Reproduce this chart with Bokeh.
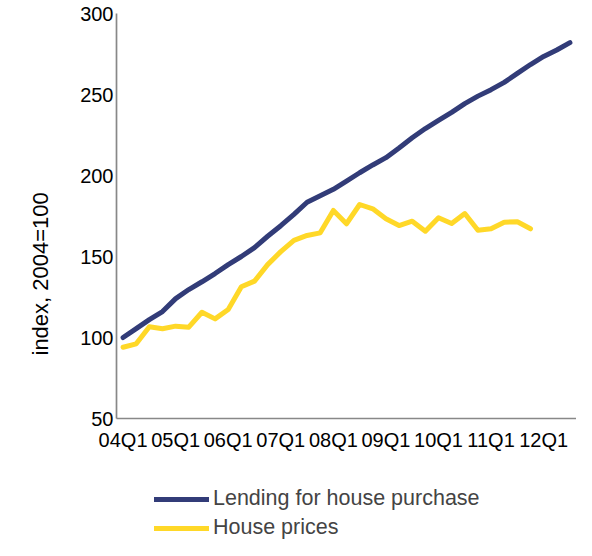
from bokeh.plotting import figure
from bokeh.models import Legend, LegendItem, FixedTicker, Range1d, Title
from bokeh.layouts import column
from bokeh.embed import file_html
from bokeh.resources import INLINE

quarters = ["04Q1", "04Q2", "04Q3", "04Q4", "05Q1", "05Q2", "05Q3", "05Q4",
            "06Q1", "06Q2", "06Q3", "06Q4", "07Q1", "07Q2", "07Q3", "07Q4",
            "08Q1", "08Q2", "08Q3", "08Q4", "09Q1", "09Q2", "09Q3", "09Q4",
            "10Q1", "10Q2", "10Q3", "10Q4", "11Q1", "11Q2", "11Q3", "11Q4",
            "12Q1", "12Q2", "12Q3"]

lending = [100, 105.5, 111, 116, 124, 129.6, 134.4, 139.5, 145, 150,
           155.5, 162.5, 169, 176, 183.5, 187.5, 191.5, 196.5, 201.7, 206.5,
           211, 217, 223.3, 229, 234, 239, 244.4, 249, 253, 257.5,
           263, 268.5, 273.5, 277.5, 282]

house_prices = [94, 96.1, 106.6, 105.4, 107, 106.4, 115.6, 111.5, 117.3, 131.3,
                134.8, 145, 153, 160, 163, 164.6, 178.4, 170.2, 182.1, 179.4,
                173.3, 169.1, 171.8, 165.6, 173.9, 170.4, 176.5, 166.2, 167.1, 171.2,
                171.4, 167.1]

series_names = ["Lending for house purchase", "House prices"]
series_colors = ["#323C78", "#FFD828"]
y_axis_title = "index, 2004=100"

y_ticks = [50, 100, 150, 200, 250, 300]
label_every = 4

FONT = "Liberation Sans"

p = figure(width=576, height=460, output_backend="svg", toolbar_location=None,
           x_range=Range1d(-0.5, len(quarters) - 0.5), y_range=Range1d(50, 300),
           min_border_left=115, min_border_right=0, min_border_top=13, min_border_bottom=42)
p.outline_line_color = None
p.grid.visible = False
p.background_fill_color = "white"
p.border_fill_color = "white"

x_l = list(range(len(lending)))
x_h = list(range(len(house_prices)))
p.line(x_l, lending, line_color=series_colors[0], line_width=5, line_cap="round", line_join="round")
p.line(x_h, house_prices, line_color=series_colors[1], line_width=5, line_cap="round", line_join="round")

tick_idx = list(range(0, len(quarters), label_every))
p.xaxis.ticker = FixedTicker(ticks=tick_idx)
p.xaxis.major_label_overrides = {i: quarters[i] for i in tick_idx}
p.yaxis.ticker = FixedTicker(ticks=y_ticks)

for ax in (p.xaxis[0], p.yaxis[0]):
    ax.axis_line_color = "#888888"
    ax.axis_line_width = 1.7
    ax.major_tick_line_color = None
    ax.minor_tick_line_color = None
    ax.major_tick_out = 0
    ax.major_tick_in = 0
    ax.major_label_text_font = FONT
    ax.major_label_text_font_size = "20px"
    ax.major_label_text_color = "black"

p.xaxis.major_label_standoff = 10
p.yaxis.major_label_standoff = 3

ytitle = Title(text=y_axis_title, align="left", offset=63, standoff=50,
               text_font=FONT, text_font_size="22px", text_font_style="normal",
               text_color="black")
p.add_layout(ytitle, "left")

# legend strip below the chart (its lines are outside its view, only the legend shows)
p2 = figure(width=576, height=80, output_backend="svg", toolbar_location=None,
            x_range=Range1d(0, 1), y_range=Range1d(0, 1),
            min_border_left=0, min_border_right=0, min_border_top=0, min_border_bottom=0)
p2.axis.visible = False
p2.grid.visible = False
p2.outline_line_color = None
p2.background_fill_color = "white"
p2.border_fill_color = "white"
lr = [p2.line(x_l, lending, line_color=series_colors[0], line_width=5, line_cap="round"),
      p2.line(x_h, house_prices, line_color=series_colors[1], line_width=5, line_cap="round")]

legend = Legend(items=[LegendItem(label=n, renderers=[r]) for n, r in zip(series_names, lr)],
                location=(38, 0), orientation="vertical",
                padding=0, margin=0, spacing=4, label_height=24, glyph_height=24,
                glyph_width=55, label_standoff=4,
                label_text_font=FONT, label_text_font_size="21.5px",
                border_line_color=None, background_fill_alpha=0)
p2.add_layout(legend, "center")

layout = column(p, p2, spacing=0)
open("out.html", "w").write(file_html(layout, INLINE))
